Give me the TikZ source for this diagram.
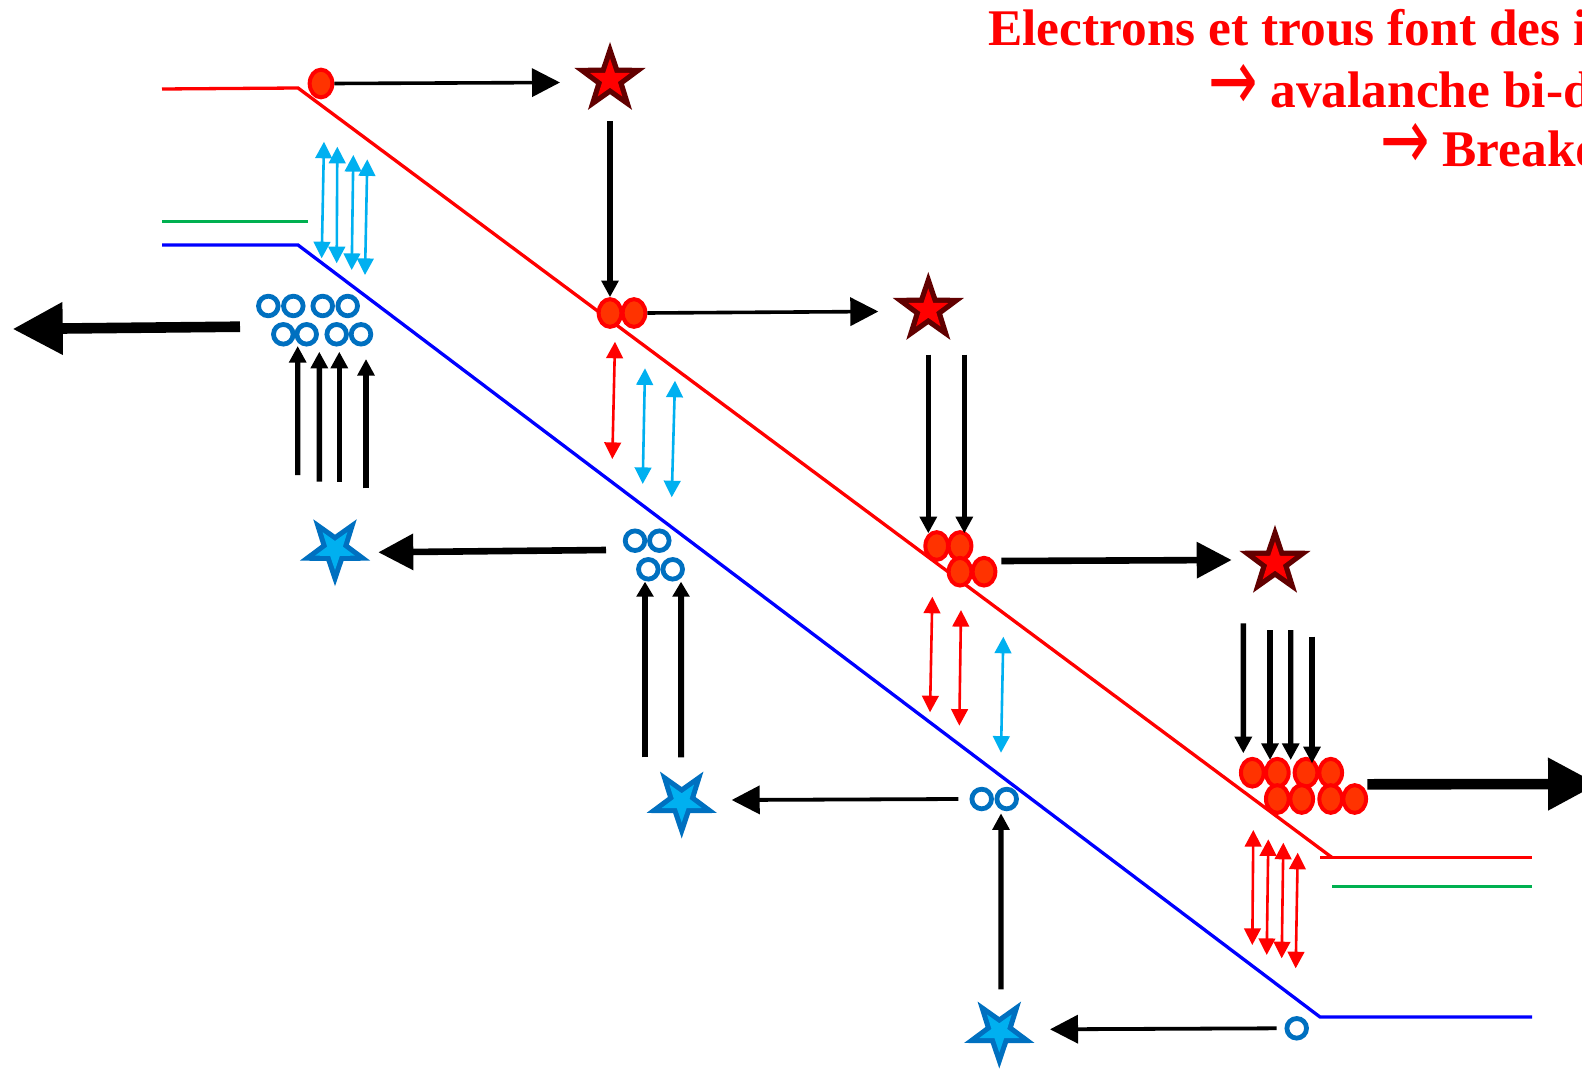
\documentclass[tikz,border=0pt]{standalone}
\usepackage{fontspec}
\setmainfont{Liberation Serif}
\newfontfamily\arrowfont{DejaVu Sans}
\usetikzlibrary{arrows.meta,shapes.geometric,calc}
\definecolor{bandred}{HTML}{FF0000}
\definecolor{bandblue}{HTML}{0000FF}
\definecolor{bandgreen}{HTML}{00B050}
\definecolor{elfill}{HTML}{FF3300}
\definecolor{starred}{HTML}{620000}
\definecolor{holeblue}{HTML}{0070C0}
\definecolor{skyblue}{HTML}{00B0F0}
\newcommand{\bigarrowglyph}{\makebox[21pt][l]{\smash{\arrowfont\mdseries\raisebox{-1.5pt}{\scalebox{1.15}[1.7]{→}}}}\hspace{10pt}}
\begin{document}
\begin{tikzpicture}[x=0.5pt,y=-0.5pt,
  band/.style={line width=1.65pt},
  el/.style={ellipse,draw=bandred,fill=elfill,line width=2pt,minimum width=11.35pt,minimum height=13.85pt,inner sep=0pt},
  hole/.style={circle,draw=holeblue,line width=2.4pt,minimum size=9.8pt,inner sep=0pt},
  rstar/.style={star,star points=5,star point ratio=2.55,minimum size=37.5pt,inner sep=0pt,fill=starred},
  rstarin/.style={star,star points=5,star point ratio=2.55,minimum size=21pt,inner sep=0pt,fill=bandred},
  bstar/.style={star,star points=5,star point ratio=2.55,shape border rotate=180,minimum size=37pt,inner sep=0pt,fill=holeblue},
  bstarin/.style={star,star points=5,star point ratio=2.55,shape border rotate=180,minimum size=21pt,inner sep=0pt,fill=skyblue},
  arrM/.style={line width=1.8pt,-{Triangle[length=14pt,width=14pt]}},
  arrS/.style={line width=1.9pt,-{Triangle[length=14pt,width=14pt]}},
  arrL/.style={line width=3.3pt,-{Triangle[length=17.5pt,width=17.5pt]}},
  arrB/.style={line width=5.3pt,-{Triangle[length=25pt,width=25pt]}},
  arrV/.style={line width=2.7pt,-{Triangle[length=8.3pt,width=8.3pt]}},
  arrVt/.style={line width=3pt,-{Triangle[length=7.5pt,width=8.3pt]}},
  dbl/.style={line width=1.3pt,{Triangle[length=8.3pt,width=8.3pt]}-{Triangle[length=8.3pt,width=8.3pt]}},
  txt/.style={text=bandred,font=\fontsize{25.7pt}{30pt}\selectfont\bfseries,inner sep=0pt,anchor=base west}
]
\useasboundingbox (0,0) rectangle (1582,1069);
\fill[white] (0,0) rectangle (1582,1069);

% bands
\draw[band,bandred] (162,89) -- (298,88) -- (1332,857.5);
\draw[band,bandred] (1320,857.5) -- (1532,857.5);
\draw[band,bandgreen] (162,221.7) -- (307.7,221.7);
\draw[band,bandgreen] (1332,886.7) -- (1532,886.7);
\draw[band,bandblue] (162,245) -- (298,245) -- (1320,1017) -- (1532,1017);

% text
\node[txt] (t1) at (988,45.5) {Electrons et trous font des ionisations};
\node[txt] (t2) at (1208,108) {\bigarrowglyph avalanche bi-directionnelle};
\node[txt] (t3) at (1380,166.7) {\bigarrowglyph Breakdown};

% stars
\node[rstar] (s1) at (610,79.5) {};
\node[rstarin] (s1i) at (s1) {};
\node[rstar] (s2) at (928.3,309.5) {};
\node[rstarin] (s2i) at (s2) {};
\node[rstar] (s3) at (1275,562.4) {};
\node[rstarin] (s3i) at (s3) {};
\node[bstar] (b1) at (335,549.2) {};
\node[bstarin] (b1i) at (b1) {};
\node[bstar] (b2) at (681.7,801.5) {};
\node[bstarin] (b2i) at (b2) {};
\node[bstar] (b3) at (999.3,1031.5) {};
\node[bstarin] (b3i) at (b3) {};

% electrons
\node[el] (e1) at (321,83.5) {};
\node[el] (e2a) at (610,313) {};
\node[el] (e2b) at (634,313) {};
\node[el] (e3a) at (936.7,546) {};
\node[el] (e3b) at (960,546) {};
\node[el] (e3c) at (960,571.7) {};
\node[el] (e3d) at (984,571.7) {};
\node[el] (e4a) at (1252.3,772.7) {};
\node[el] (e4b) at (1277.3,772.7) {};
\node[el] (e4c) at (1306,772.7) {};
\node[el] (e4d) at (1330.7,772.7) {};
\node[el] (e4e) at (1277.3,799) {};
\node[el] (e4f) at (1301.7,799) {};
\node[el] (e4g) at (1330.7,799) {};
\node[el] (e4h) at (1354.7,799) {};

% holes
\node[hole] (h1a) at (268.3,306) {};
\node[hole] (h1b) at (293.3,306) {};
\node[hole] (h1c) at (322.7,306) {};
\node[hole] (h1d) at (347.7,306) {};
\node[hole] (h1e) at (283.3,334.3) {};
\node[hole] (h1f) at (306.7,334.3) {};
\node[hole] (h1g) at (336.7,334.3) {};
\node[hole] (h1h) at (361,334.3) {};
\node[hole] (h2a) at (635,540.7) {};
\node[hole] (h2b) at (659.3,540.7) {};
\node[hole] (h2c) at (648.3,569.3) {};
\node[hole] (h2d) at (672.7,569.3) {};
\node[hole] (h3a) at (981.7,799) {};
\node[hole] (h3b) at (1006.7,799) {};
\node[hole] (h4) at (1296.7,1028.3) {};

\coordinate (rout) at (1598,784);
\coordinate (lout) at (12.7,329);

% electron arrows
\draw[arrM] (e1.east) -- ($(s1)+(-50,3)$);
\draw[arrV] ($(s1)+(0,42)$) -- (e2a.north);
\draw[arrM] (e2b.east) -- ($(s2)+(-50,2)$);
\draw[arrV] ($(s2)+(0,45)$) -- ($(e3a)+(-8.4,-12.7)$);
\draw[arrV] ($(s2)+(36,45)$) -- ($(e3b)+(4.3,-12.7)$);
\draw[arrL] ($(e3d.east)+(4,-10.7)$) -- ($(s3)+(-43.3,-2.4)$);
\draw[arrV] ($(s3)+(-31.7,60.9)$) -- ($(e4a)+(-9,-19.4)$);
\draw[arrV] ($(s3)+(-5,67.6)$) -- ($(e4b)+(-7.3,-12.7)$);
\draw[arrV] ($(s3)+(15.7,67.6)$) -- ($(e4c)+(-15.3,-12.7)$);
\draw[arrV] ($(s3)+(37,74.3)$) -- ($(e4d)+(-18.7,-9.4)$);
\draw[arrB] ($(e4h.east)+(-0.8,-14.7)$) -- (rout);

% hole arrows
\draw[arrB] ($(h1e)+(-43.3,-7.6)$) -- (lout);
\draw[arrV] ($(b1)+(-37.3,-74.2)$) -- ($(h1e)+(14.4,11.7)$);
\draw[arrV] ($(b1)+(-15.7,-67.5)$) -- ($(h1f)+(12.6,17.4)$);
\draw[arrV] ($(b1)+(4.3,-67.5)$) -- ($(h1g)+(2.6,17.4)$);
\draw[arrV] ($(b1)+(31,-60.9)$) -- ($(h1h)+(5,24.7)$);
\draw[arrL] ($(h2a)+(-29,9.3)$) -- ($(b1)+(43.3,3.1)$);
\draw[arrVt] ($(b2)+(-36.7,-44.2)$) -- ($(h2c)+(-3.3,12.4)$);
\draw[arrVt] ($(b2)+(-0.7,-44.2)$) -- ($(h2d)+(8.3,12.4)$);
\draw[arrS] ($(h3a)+(-23.4,0)$) -- ($(b2)+(50,-1.5)$);
\draw[arrV] ($(b3)+(1.7,-42.2)$) -- ($(h3b)+(-5.7,14.3)$);
\draw[arrS] ($(h4)+(-20,0)$) -- ($(b3)+(50.7,-2.2)$);

% double arrows (transitions)
\draw[dbl,skyblue] (324,141.7) -- (321.7,258.3);
\draw[dbl,skyblue] (337.3,146.7) -- (336.7,263.3);
\draw[dbl,skyblue] (353.3,155) -- (351.7,270);
\draw[dbl,skyblue] (367.3,159.3) -- (365,275);
\draw[dbl,bandred] (615,341.7) -- (612.3,459);
\draw[dbl,skyblue] (645,368.3) -- (642.7,484);
\draw[dbl,skyblue] (675,380.7) -- (671.7,497.3);
\draw[dbl,bandred] (932.3,596.7) -- (930,712.3);
\draw[dbl,bandred] (961,610) -- (959.3,725.7);
\draw[dbl,skyblue] (1003.3,636.7) -- (1001,752.7);
\draw[dbl,bandred] (1253.3,830) -- (1252.3,945);
\draw[dbl,bandred] (1268.3,839.3) -- (1266.7,955);
\draw[dbl,bandred] (1283.3,842.7) -- (1281.7,958.3);
\draw[dbl,bandred] (1297.7,852.7) -- (1295.7,968.3);
\end{tikzpicture}
\end{document}
